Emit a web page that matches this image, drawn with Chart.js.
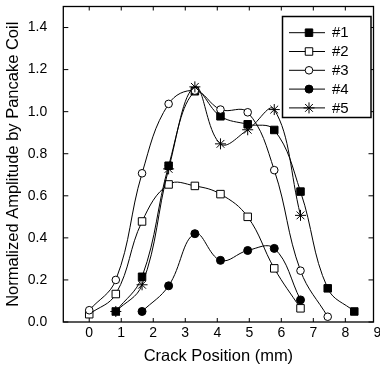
<!DOCTYPE html>
<html>
<head>
<meta charset="utf-8">
<script src="https://cdn.jsdelivr.net/npm/chart.js@4.4.1/dist/chart.umd.min.js"></script>
<style>
  html, body { margin: 0; padding: 0; background: #fff; }
  canvas { display: block; }
</style>
</head>
<body>
<canvas id="chart" width="380" height="378"></canvas>
<script>
// crack positions (mm) where the coil was read
const positions = [0, 0.83, 1.65, 2.48, 3.3, 4.1, 4.95, 5.78, 6.6, 7.45, 8.28];

const labels = ["#1", "#2", "#3", "#4", "#5"];
const amp1 = [0.05, 0.215, 0.743, 1.097, 0.978, 0.94, 0.913, 0.62, 0.16, 0.05];
const amp2 = [0.037, 0.133, 0.478, 0.654, 0.647, 0.608, 0.5, 0.255, 0.065];
const amp3 = [0.056, 0.2, 0.707, 1.037, 1.1, 1.01, 0.997, 0.722, 0.244, 0.025];
const amp4 = [0.05, 0.172, 0.42, 0.293, 0.34, 0.35, 0.105];
const amp5 = [0.05, 0.177, 0.728, 1.118, 0.847, 0.914, 1.01, 0.507];
// index of the first position each series starts at
const starts = [1, 0, 0, 2, 1];

const xTicks = [0, 1, 2, 3, 4, 5, 6, 7, 8, 9];
const yTicks = [0, 0.2, 0.4, 0.6, 0.8, 1.0, 1.2, 1.4];

const FONT = "'Liberation Sans', Arial, sans-serif";

function toPoints(values, start) {
  return values.map((v, i) => ({ x: positions[start + i], y: v }));
}

const styles = [
  { pointStyle: "rect", radius: 5.3, fill: "#000" },
  { pointStyle: "rect", radius: 5.3, fill: "#fff" },
  { pointStyle: "circle", radius: 3.8, fill: "#fff" },
  { pointStyle: "circle", radius: 4, fill: "#000" },
  { pointStyle: "star", radius: 5.5, fill: "#000" },
];

const series = [amp1, amp2, amp3, amp4, amp5];
const datasets = series.map((vals, i) => ({
  label: labels[i],
  data: toPoints(vals, starts[i]),
  borderColor: "#000",
  borderWidth: 1,
  tension: 0.4,
  pointStyle: styles[i].pointStyle,
  pointRadius: styles[i].radius,
  pointBackgroundColor: styles[i].fill,
  pointBorderColor: "#000",
  pointBorderWidth: 1,
  order: 5 - i,
}));

// frame on four sides with inward ticks
const framePlugin = {
  id: "frame",
  afterDatasetsDraw(chart) {
    const { ctx, chartArea: a, scales } = chart;
    ctx.save();
    ctx.strokeStyle = "#000";
    ctx.lineWidth = 1.3;
    ctx.strokeRect(a.left, a.top, a.right - a.left, a.bottom - a.top);
    ctx.lineWidth = 1;
    ctx.beginPath();
    xTicks.forEach((v) => {
      const px = scales.x.getPixelForValue(v);
      if (px > a.right) return;
      ctx.moveTo(px, a.bottom); ctx.lineTo(px, a.bottom - 4);
      ctx.moveTo(px, a.top); ctx.lineTo(px, a.top + 4);
    });
    yTicks.forEach((v) => {
      const py = scales.y.getPixelForValue(v);
      ctx.moveTo(a.left, py); ctx.lineTo(a.left + 5, py);
      ctx.moveTo(a.right, py); ctx.lineTo(a.right - 5, py);
    });
    ctx.stroke();
    ctx.restore();
  },
};

// boxed legend inside the plot, upper right
const legendPlugin = {
  id: "boxLegend",
  afterDraw(chart) {
    const ctx = chart.ctx;
    const box = { left: 282.5, top: 16.5, right: 371, bottom: 117.5 };
    ctx.save();
    ctx.fillStyle = "#fff";
    ctx.fillRect(box.left, box.top, box.right - box.left, box.bottom - box.top);
    ctx.strokeStyle = "#000";
    ctx.lineWidth = 1.5;
    ctx.strokeRect(box.left, box.top, box.right - box.left, box.bottom - box.top);
    chart.data.datasets.forEach((ds, i) => {
      const y = 32.7 + i * 18.8;
      ctx.strokeStyle = "#000";
      ctx.lineWidth = 1;
      ctx.beginPath();
      ctx.moveTo(289, y);
      ctx.lineTo(325, y);
      ctx.stroke();
      ctx.fillStyle = ds.pointBackgroundColor;
      ctx.strokeStyle = "#000";
      Chart.helpers.drawPoint(ctx, { pointStyle: ds.pointStyle, radius: ds.pointRadius, rotation: 0, borderWidth: 1 }, 309, y);
      ctx.fillStyle = "#000";
      ctx.font = "15px " + FONT;
      ctx.textBaseline = "middle";
      ctx.textAlign = "left";
      ctx.fillText(ds.label, 332, y + 0.5);
    });
    ctx.restore();
  },
};

new Chart(document.getElementById("chart"), {
  type: "line",
  data: { datasets: datasets },
  options: {
    responsive: false,
    animation: false,
    layout: { padding: { top: 6, right: 6, left: 0, bottom: 0 } },
    plugins: { legend: { display: false }, tooltip: { enabled: false } },
    scales: {
      x: {
        type: "linear",
        min: -0.81,
        max: 8.88,
        grid: { display: false, drawTicks: false },
        border: { display: false },
        afterBuildTicks: (s) => { s.ticks = xTicks.map((v) => ({ value: v })); },
        afterFit: (s) => { s.height = 56; s.paddingLeft = 0; s.paddingRight = 0; },
        ticks: {
          autoSkip: false,
          maxRotation: 0,
          padding: 3,
          color: "#000",
          font: { family: FONT, size: 14 },
          callback: (v) => String(v),
        },
        title: {
          display: true,
          text: "Crack Position (mm)",
          color: "#000",
          font: { family: FONT, size: 16.5 },
          padding: { top: 0, bottom: 12 },
        },
      },
      y: {
        min: 0,
        max: 1.5,
        grid: { display: false, drawTicks: false },
        border: { display: false },
        afterBuildTicks: (s) => { s.ticks = yTicks.map((v) => ({ value: v })); },
        afterFit: (s) => { s.width = 63.3; s.paddingTop = 0; s.paddingBottom = 0; },
        ticks: {
          autoSkip: false,
          padding: 16,
          color: "#000",
          font: { family: FONT, size: 14 },
          callback: (v) => Number(v).toFixed(1),
        },
        title: {
          display: true,
          text: "Normalized Amplitude by Pancake Coil",
          color: "#000",
          font: { family: FONT, size: 16.5 },
          padding: { top: 4, bottom: 0 },
        },
      },
    },
  },
  plugins: [framePlugin, legendPlugin],
});
</script>
</body>
</html>
